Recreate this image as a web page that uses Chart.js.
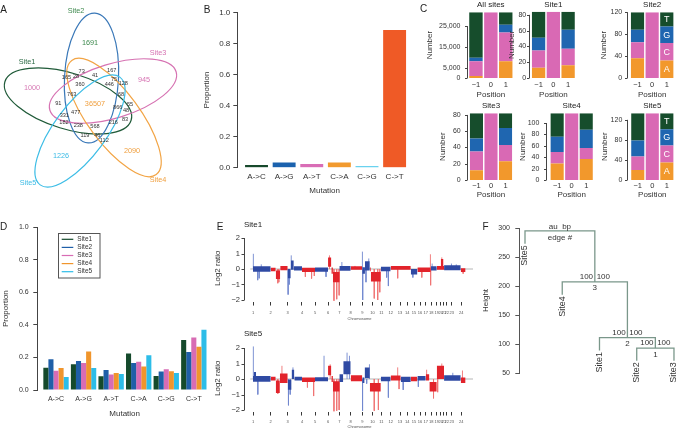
<!DOCTYPE html>
<html><head><meta charset="utf-8">
<script src="https://cdn.jsdelivr.net/npm/chart.js@4.4.1/dist/chart.umd.min.js"></script>
<style>
html,body{margin:0;padding:0;background:#fff}
#wrap{position:relative;width:679px;height:430px;overflow:hidden;font-family:"Liberation Sans",Arial,Helvetica,sans-serif}
#wrap canvas{position:absolute;left:0;top:0}
.lbl{position:absolute;white-space:nowrap;line-height:1;color:#222}
</style></head><body><div id="wrap"></div>
<script>
// ================= DATA =================
// Panel A – Venn diagram
const vennSets = ['Site1','Site2','Site3','Site4','Site5'];
const vennCounts = [1000,1691,945,2090,1226,36507,73,167,41,165,28,360,446,75,128,763,68,91,866,55,477,331,48,182,238,568,216,83,119,46,112];
// Panel B – overall mutation spectrum
const mutationTypes = ['A->C','A->G','A->T','C->A','C->G','C->T'];
const allSitesProportion = [0.018,0.033,0.024,0.034,0.010,0.886];
// Panel C – sequence context (rows A,C,G,T ; columns position -1, 0, 1)
const contextPositions = ['\u22121','0','1'];
const contextBases = ['A','C','G','T'];
const contextAllSites = [[1000,0,8100],[7100,31700,13800],[1600,0,3700],[22000,0,6100]];
const contextSite1 = [[13,0,16],[22,84,21],[16,0,24],[33,0,23]];
const contextSite2 = [[36,0,32],[29,120,32],[23,0,30],[32,0,26]];
const contextSite3 = [[12,0,23],[23,82,20],[16,0,21],[31,0,18]];
const contextSite4 = [[29,0,37],[20,117,19],[27,0,32],[41,0,29]];
const contextSite5 = [[20,0,35],[27,133,34],[32,0,32],[54,0,32]];
const ticksAllSites = [0,5000,15000,25000];
const ticksSite1 = [0,20,40,60,80];
const ticksSite2 = [0,20,40,60,80,100,120];
const ticksSite3 = [0,20,40,60,80];
const ticksSite4 = [0,20,40,60,80,100];
const ticksSite5 = [0,20,40,60,80,100,120];
// Panel D – per-site mutation spectrum
const siteNames = ['Site1','Site2','Site3','Site4','Site5'];
const propSite1 = [0.137,0.158,0.084,0.225,0.086,0.307];
const propSite2 = [0.189,0.178,0.123,0.166,0.113,0.234];
const propSite3 = [0.119,0.166,0.096,0.174,0.127,0.322];
const propSite4 = [0.135,0.236,0.105,0.145,0.115,0.266];
const propSite5 = [0.080,0.135,0.098,0.213,0.105,0.371];
const proportionTicks = [0,0.2,0.4,0.6,0.8,1.0];
// Panel E – copy number (genome position in Mb, log2 ratio)
const chromLabels = ['1','2','3','4','5','6','7','8','9','10','11','12','13','14','15','16','17','18','19','20','21','22','23','24'];
const chromStarts = [0,257,504,711,900,1089,1253,1418,1586,1733,1862,1998,2134,2240,2337,2424,2506,2588,2666,2724,2772,2811,2884,3023];
const log2Ticks = [-2,-1,0,1,2];
// segments: [start, end, low, high]
const site1BlueSegs = [[0,257,-0.18,0.18],[504,548,-0.6,0.0],[548,592,-0.05,0.55],[592,711,-0.1,0.18],[900,1089,-0.18,0.1],[1253,1418,-0.12,0.2],[1586,1625,-0.3,0.12],[1625,1695,-0.1,0.5],[1855,1998,-0.15,0.15],[2290,2386,-0.35,0.0],[2580,2667,-0.1,0.18],[2773,3015,-0.08,0.25]];
const site1RedSegs = [[257,330,-0.15,0.08],[330,395,-0.65,-0.1],[395,504,-0.08,0.2],[711,900,-0.2,0.08],[1089,1137,0.15,0.75],[1137,1160,-0.3,0.1],[1160,1258,-0.85,-0.2],[1418,1586,-0.05,0.18],[1695,1710,-0.15,0.1],[1710,1855,-0.8,-0.2],[1998,2290,-0.05,0.2],[2386,2580,-0.2,0.1],[2667,2773,-0.05,0.2],[2725,2765,0.2,0.65],[3015,3085,-0.2,0.05]];
// spikes: [position, log2 ratio]
const site1BlueSpikes = [[5,0.98],[68,-0.72],[90,-0.6],[120,0.3],[510,-1.65],[525,-1.0],[555,0.88],[1060,-0.5],[1290,0.45],[1588,1.12],[1592,-2.0],[1640,-0.85],[1680,0.68],[1940,-0.55],[1965,-1.1],[2320,-0.55],[2600,0.35],[2880,0.35],[2950,0.3]];
const site1RedSpikes = [[360,-0.92],[375,-0.85],[760,-0.5],[850,-0.62],[890,-0.45],[1110,0.88],[1175,-2.05],[1215,-1.95],[1250,-1.7],[1480,0.2],[1760,-1.9],[1810,-2.0],[1840,-1.5],[2100,-0.6],[2450,-0.55],[2575,0.95],[2578,-1.05],[2740,0.75],[3050,-0.3]];
const site5BlueSegs = [[0,257,-0.18,0.2],[10,45,0.0,0.45],[504,560,-0.7,-0.05],[560,600,0.0,0.6],[600,711,-0.1,0.15],[900,1089,-0.15,0.12],[1253,1310,-0.2,0.3],[1310,1418,0.3,1.15],[1586,1620,-0.25,0.1],[1620,1695,0.05,0.75],[1855,1998,-0.15,0.15],[2144,2290,-0.2,0.15],[2386,2507,-0.1,0.2],[2773,3015,-0.12,0.25]];
const site5RedSegs = [[257,330,-0.1,0.15],[330,390,-0.9,-0.1],[390,504,-0.25,0.35],[711,900,-0.2,0.1],[1089,1137,0.25,0.85],[1137,1160,-0.2,0.2],[1160,1258,-0.8,-0.15],[1418,1586,-0.15,0.25],[1695,1855,-0.8,-0.25],[1998,2144,-0.1,0.22],[2290,2386,-0.15,0.15],[2507,2560,-0.1,0.3],[2560,2667,-0.8,-0.2],[2667,2773,0.0,0.85],[3015,3085,-0.25,0.1]];
const site5BlueSpikes = [[5,2.1],[70,-1.0],[515,-1.7],[540,-1.0],[580,0.75],[1031,1.5],[1365,1.7],[1400,1.5],[1590,-2.05],[1650,-0.3],[1690,0.95],[1965,-1.2],[2180,-0.7],[2400,-0.5],[2900,0.4]];
const site5RedSpikes = [[360,-0.95],[420,0.85],[790,-0.55],[880,-1.1],[1120,0.95],[1175,-2.1],[1215,-2.05],[1250,-2.0],[1760,-2.05],[1820,-2.0],[2100,0.75],[2120,-0.65],[2520,0.6],[2620,-1.25],[2680,-0.85],[2740,1.0],[3040,0.55]];
// Panel F – clustering (leaves in plot order, hclust-style merges; negative = leaf number)
const leafOrder = ['Site5','Site4','Site1','Site2','Site3'];
const mergePairs = [[-4,-5],[-3,1],[-2,2],[-1,3]];
const mergeHeights = [93,111,207,295];
const auValues = [100,100,100,null];
const bpValues = [100,100,100,null];
const leafHang = 22;
const heightTicks = [50,100,150,200,250,300];

// ================= STYLE / LAYOUT =================
const W=679,H=430;
const FONT='"Liberation Sans", Arial, Helvetica, sans-serif';
const mutationColors = ['#17492c','#1b62ae','#d96db6','#f29a2e','#38c3ea','#ef5a26'];
const baseColors = ['#f2982c','#d969b4','#1f66b0','#164d2c'];
const siteColors = ['#154a2c','#1f5fa8','#d86cb4','#f0952c','#2dbde8'];
const vennColors = ['#1f5a38','#3a78b8','#d672b2','#f2a444','#3dbde6'];
const vennLabelColors = ['#2c6b45','#3f8a4f','#d672b2','#f0a040','#3bbbe5'];
const vennCountColors = ['#d77ab5','#3f8a4f','#d672b2','#f0a040','#3bbbe5','#f0a040'];
// [cx, cy, semi-major, semi-minor, rotation deg]
const vennShapes = [[68,101,66,28,17],[91.5,78,65,27,93],[113,91,66,27,-17],[114,117.5,71,26,53.5],[80,131,67,26,-53.5]];
const vennSetXY = [[27,62],[76,11],[158,53],[158,180],[28,183]];
const vennCountXY = [[32,88],[90,43],[144,80],[132,151],[61,156],[95,104],[81.7,71],[111.7,70],[95,75.7],[66.5,77.5],[76,76.5],[80,84],[109.3,84.3],[114,79.5],[123.3,83.3],[71.7,94.3],[121,94.3],[58.3,103.3],[117.7,107.3],[130,104],[75.7,112.7],[64.3,115],[126,110.7],[64,122.7],[78.3,125.7],[95,126],[113.3,122.3],[125,119.3],[85,135],[97.3,135],[104.3,140]];

Chart.defaults.font.family=FONT;
Chart.defaults.color='#333';
Chart.defaults.animation=false;
Chart.defaults.responsive=false;
Chart.defaults.maintainAspectRatio=false;
Chart.defaults.events=[];
Chart.defaults.plugins.legend.display=false;
Chart.defaults.plugins.tooltip.enabled=false;

const wrap=document.getElementById('wrap');
function canvas(){const c=document.createElement('canvas');c.width=W;c.height=H;c.style.width=W+'px';c.style.height=H+'px';wrap.appendChild(c);return c;}
function frame(L,T,R,B,yw,xh){return {autoPadding:false,padding:{left:L-yw,top:T,right:W-R,bottom:H-B-xh}};}
function fixW(w){return s=>{s.width=w;};}
function fixH(h){return s=>{s.height=h;};}
function setTicks(vals){return s=>{s.ticks=vals.map(v=>({value:v}));};}
function label(text,x,y,size,color,align){const d=document.createElement('div');d.className='lbl';d.textContent=text;d.style.left=x+'px';d.style.top=y+'px';d.style.fontSize=size+'px';d.style.color=color||'#222';d.style.transform=align==='left'?'translate(0,-50%)':'translate(-50%,-50%)';wrap.appendChild(d);}
const minus=v=>v<0?'\u2212'+(-v):String(v);

// R-style axis line (first to last tick)
Chart.register({
  id:'raxis',
  afterDraw(chart,args,opts){
    const ctx=chart.ctx,a=chart.chartArea;
    ctx.save();ctx.strokeStyle=opts.color||'#444';ctx.lineWidth=1;
    if(opts.y){const s=chart.scales.y;const vals=s.ticks.map(t=>t.value);
      const x0=Math.round(a.left-opts.y.gap)+0.5;
      ctx.beginPath();ctx.moveTo(x0,s.getPixelForValue(Math.min(...vals)));ctx.lineTo(x0,s.getPixelForValue(Math.max(...vals)));
      vals.forEach(v=>{const p=Math.round(s.getPixelForValue(v))+0.5;ctx.moveTo(x0,p);ctx.lineTo(x0-opts.y.len,p);});
      ctx.stroke();}
    ctx.restore();
  }
});
// white base letters on a stacked bar
Chart.register({
  id:'baseLetters',
  afterDatasetsDraw(chart,args,opts){
    if(!opts.show)return;const ctx=chart.ctx;ctx.save();ctx.fillStyle='#fff';ctx.font='9px '+FONT;ctx.textAlign='center';ctx.textBaseline='middle';
    chart.data.datasets.forEach((ds,i)=>{const el=chart.getDatasetMeta(i).data[2];ctx.fillText(ds.label,el.x,(el.y+el.base)/2+0.5);});
    ctx.restore();
  }
});

// ================= PANEL A : VENN =================
new Chart(canvas(),{
  type:'scatter',
  data:{datasets:[{data:vennCounts.map((v,i)=>({x:vennCountXY[i][0],y:vennCountXY[i][1]})),pointRadius:0}]},
  options:{layout:{autoPadding:false,padding:{left:0,top:0,right:W-200,bottom:H-200}},
    scales:{x:{display:false,min:0,max:200},y:{display:false,min:0,max:200,reverse:true}}},
  plugins:[{id:'venn',
    beforeDatasetsDraw(chart){const {ctx,scales:{x,y}}=chart;ctx.save();
      vennShapes.forEach((e,i)=>{const cx=x.getPixelForValue(e[0]),cy=y.getPixelForValue(e[1]);
        const rx=Math.abs(x.getPixelForValue(e[0]+e[2])-cx),ry=Math.abs(x.getPixelForValue(e[0]+e[3])-cx);
        ctx.beginPath();ctx.ellipse(cx,cy,rx,ry,e[4]*Math.PI/180,0,2*Math.PI);ctx.strokeStyle=vennColors[i];ctx.lineWidth=1.2;ctx.stroke();});
      ctx.restore();},
    afterDatasetsDraw(chart){const {ctx,scales:{x,y}}=chart;const meta=chart.getDatasetMeta(0);ctx.save();ctx.textAlign='center';ctx.textBaseline='middle';
      meta.data.forEach((pt,i)=>{const big=i<6;ctx.font=(big?'7.3px ':'5.6px ')+FONT;ctx.fillStyle=big?vennCountColors[i]:'#333';ctx.fillText(String(vennCounts[i]),pt.x,pt.y);});
      vennSets.forEach((s,i)=>{ctx.font='7.3px '+FONT;ctx.fillStyle=vennLabelColors[i];ctx.fillText(s,x.getPixelForValue(vennSetXY[i][0]),y.getPixelForValue(vennSetXY[i][1]));});
      ctx.restore();}
  }]
});

// ================= PANEL B =================
(function(){
  const L=237.3,T=12.3,R=412,B=167.7;const yw=L-207+4.8,xh=191+4.8-B;
  new Chart(canvas(),{type:'bar',
    data:{datasets:[{data:allSitesProportion.map((v,i)=>({x:i,y:v})),backgroundColor:mutationColors,barPercentage:0.83,categoryPercentage:1}]},
    options:{layout:frame(L,T,R,B,yw,xh),scales:{
      x:{type:'linear',min:-0.696,max:5.63,offset:false,grid:{display:false,drawTicks:false,offset:false},border:{display:false},afterBuildTicks:setTicks([0,1,2,3,4,5]),
         ticks:{autoSkip:false,maxRotation:0,minRotation:0,padding:4.2,font:{size:8},callback:v=>mutationTypes[v]},
         title:{display:true,text:'Mutation',font:{size:8},padding:0},afterFit:fixH(xh)},
      y:{min:0,max:1,afterBuildTicks:setTicks(proportionTicks),ticks:{padding:3,font:{size:8},callback:v=>v.toFixed(1)},
         grid:{drawOnChartArea:false,tickLength:4,color:'#444'},border:{color:'#444'},
         title:{display:true,text:'Proportion',font:{size:8},padding:0},afterFit:fixW(yw)}}}
  });
})();

// ================= PANEL C =================
function contextChart(counts,ticks,L,T,R,B,titleX,labelY,posTitleY,letters,axGap,lblPad){
  const total=counts.reduce((s,r)=>s+r[0],0);
  const yw=L-titleX+4.8,xh=posTitleY+4.8-B,lp=labelY-B-4.5;
  new Chart(canvas(),{type:'bar',
    data:{labels:contextPositions,datasets:contextBases.map((b,i)=>({label:b,data:counts[i],backgroundColor:baseColors[i],barPercentage:0.9,categoryPercentage:1,borderWidth:0}))},
    options:{layout:frame(L,T,R,B,yw,xh),plugins:{raxis:{y:{gap:axGap,len:2.5}},baseLetters:{show:letters}},
      scales:{
        x:{stacked:true,grid:{display:false,drawTicks:false},border:{display:false},ticks:{padding:lp,font:{size:7.5},maxRotation:0,autoSkip:false},
           title:{display:true,text:'Position',font:{size:8},padding:0},afterFit:fixH(xh)},
        y:{stacked:true,min:0,max:total,afterBuildTicks:setTicks(ticks),grid:{display:false,drawTicks:false},border:{display:false},
           ticks:{padding:lblPad,font:{size:7},callback:v=>v.toLocaleString('en-US')},
           title:{display:true,text:'Number',font:{size:8},padding:0},afterFit:fixW(yw)}}}
  });
}
contextChart(contextAllSites,ticksAllSites,468.5,11.7,513.2,78,430,85,94.3,false,1.8,8);
contextChart(contextSite1,ticksSite1,531.2,11.7,575.5,78,511.5,85,94.3,false,2.0,5);
contextChart(contextSite2,ticksSite2,630.2,11.7,674.1,78,604,85,94.3,true,3.5,8);
contextChart(contextSite3,ticksSite3,469.2,113.3,512.8,180,442.5,186,195,false,2.5,8.5);
contextChart(contextSite4,ticksSite4,549.9,113.3,593.5,180,523,186,195,false,4.4,10.5);
contextChart(contextSite5,ticksSite5,630.5,113.3,674.1,180,604.5,186,195,true,3.2,8.2);

// ================= PANEL D =================
(function(){
  const L=37.3,T=227.3,R=212,B=390;const yw=L-6+4.8,xh=414+4.8-B;
  const props=[propSite1,propSite2,propSite3,propSite4,propSite5];
  new Chart(canvas(),{type:'bar',
    data:{datasets:siteNames.map((n,i)=>({label:n,data:props[i].map((v,j)=>({x:j,y:v})),backgroundColor:siteColors[i],categoryPercentage:0.92,barPercentage:1}))},
    options:{layout:frame(L,T,R,B,yw,xh),scales:{
      x:{type:'linear',min:-0.679,max:5.66,offset:false,grid:{display:false,drawTicks:false,offset:false},border:{display:false},afterBuildTicks:setTicks([0,1,2,3,4,5]),
         ticks:{autoSkip:false,maxRotation:0,minRotation:0,padding:4.8,font:{size:7},callback:v=>mutationTypes[v]},
         title:{display:true,text:'Mutation',font:{size:8},padding:0},afterFit:fixH(xh)},
      y:{min:0,max:1,afterBuildTicks:setTicks(proportionTicks),ticks:{padding:4.6,font:{size:7},callback:v=>v.toFixed(1)},
         grid:{drawOnChartArea:false,tickLength:4,color:'#444'},border:{color:'#444'},
         title:{display:true,text:'Proportion',font:{size:8},padding:0},afterFit:fixW(yw)}}},
    plugins:[{id:'dlegend',afterDraw(chart){const ctx=chart.ctx;ctx.save();ctx.strokeStyle='#555';ctx.lineWidth=1;ctx.strokeRect(58.5,233.5,41.5,44.5);
      ctx.font='6.5px '+FONT;ctx.textBaseline='middle';
      chart.data.datasets.forEach((ds,i)=>{const y=239.3+i*8.1;ctx.strokeStyle=ds.backgroundColor;ctx.lineWidth=1.2;ctx.beginPath();ctx.moveTo(61.7,y);ctx.lineTo(73.3,y);ctx.stroke();ctx.fillStyle='#333';ctx.fillText(ds.label,77.3,y);});
      ctx.restore();}}]
  });
})();

// ================= PANEL E =================
function spikeData(sp){const out=[];sp.slice().sort((a,b)=>a[0]-b[0]).forEach(([x,v])=>{out.push({x,y:0},{x,y:v},{x,y:null});});return out;}
function cnvChart(blueSegs,redSegs,blueSpikes,redSpikes,T,B,labelY,titleY){
  const L=246,R=473;const yw=L-218+4.8,xh=titleY+2.4-B,lp=labelY-B-4-2.4;
  const ds=[];
  ds.push({type:'line',data:[{x:-40,y:0},{x:3193,y:0}],borderColor:'#b5b5b5',borderWidth:1.2,pointRadius:0,order:5});
  ds.push({type:'line',data:spikeData(blueSpikes),borderColor:'#7288cf',borderWidth:0.9,pointRadius:0,spanGaps:false,order:3});
  ds.push({type:'line',data:spikeData(redSpikes),borderColor:'#ef7373',borderWidth:0.9,pointRadius:0,spanGaps:false,order:3});
  blueSegs.forEach(s=>ds.push({type:'line',data:[{x:s[0],y:s[3]},{x:s[1],y:s[3]}],borderWidth:0,pointRadius:0,fill:{value:s[2]},backgroundColor:'#2f4aa3',order:1}));
  redSegs.forEach(s=>ds.push({type:'line',data:[{x:s[0],y:s[3]},{x:s[1],y:s[3]}],borderWidth:0,pointRadius:0,fill:{value:s[2]},backgroundColor:'#e2232b',order:1}));
  new Chart(canvas(),{type:'scatter',data:{datasets:ds},
    options:{layout:frame(L,T,R,B,yw,xh),plugins:{raxis:{y:{gap:1.7,len:3}}},
      scales:{
        x:{type:'linear',min:-101.6,max:3193,afterBuildTicks:setTicks(chromStarts),
           grid:{drawOnChartArea:false,drawTicks:true,tickLength:4,color:'#222',lineWidth:0.9},border:{display:false},
           ticks:{autoSkip:false,maxRotation:0,minRotation:0,padding:lp,font:{size:4},color:'#555',callback:(v,i)=>chromLabels[i]},
           title:{display:true,text:'Chromosome',font:{size:4},color:'#555',padding:0},afterFit:fixH(xh)},
        y:{min:-2.1,max:2.2,afterBuildTicks:setTicks(log2Ticks),grid:{display:false,drawTicks:false},border:{display:false},
           ticks:{padding:6,font:{size:7.5},callback:v=>minus(v)},
           title:{display:true,text:'Log2 ratio',font:{size:8},padding:0},afterFit:fixW(yw)}}}
  });
}
cnvChart(site1BlueSegs,site1RedSegs,site1BlueSpikes,site1RedSpikes,234.9,301.55,313,319);
cnvChart(site5BlueSegs,site5RedSegs,site5BlueSpikes,site5RedSpikes,344.9,411.55,422,426.7);

// ================= PANEL F =================
(function(){
  const nodeX=[],leafBottom=[];
  const cx=c=>c<0?-c:nodeX[c-1];
  mergePairs.forEach(([a,b],k)=>{nodeX[k]=(cx(a)+cx(b))/2;[a,b].forEach(c=>{if(c<0)leafBottom[-c-1]=mergeHeights[k]-leafHang;});});
  const ch=c=>c<0?leafBottom[-c-1]:mergeHeights[c-1];
  const ds=mergePairs.map(([a,b],k)=>({data:[{x:cx(a),y:ch(a)},{x:cx(a),y:mergeHeights[k]},{x:cx(b),y:mergeHeights[k]},{x:cx(b),y:ch(b)}],
    showLine:true,borderColor:'#7a978a',borderWidth:1.3,pointRadius:0}));
  const L=519.3,T=228,R=677.7,B=373;const yw=L-486+4.8;
  new Chart(canvas(),{type:'scatter',data:{datasets:ds},
    options:{layout:frame(L,T,R,B,yw,0),scales:{
      x:{display:false,min:0.847,max:5.1},
      y:{min:50,max:300,afterBuildTicks:setTicks(heightTicks),ticks:{padding:5.3,font:{size:7}},
         grid:{drawOnChartArea:false,tickLength:4,color:'#555'},border:{color:'#555'},
         title:{display:true,text:'Height',font:{size:8},padding:0},afterFit:fixW(yw)}}},
    plugins:[{id:'dendro',afterDraw(chart){const {ctx,scales:{x,y}}=chart;ctx.save();ctx.fillStyle='#333';
      leafOrder.forEach((n,i)=>{const px=x.getPixelForValue(i+1),py=y.getPixelForValue(leafBottom[i]);ctx.save();ctx.translate(px,py+1.5);ctx.rotate(-Math.PI/2);
        ctx.font='9px '+FONT;ctx.textAlign='right';ctx.textBaseline='middle';ctx.fillText(n,0,0);ctx.restore();});
      ctx.font='8px '+FONT;ctx.textBaseline='middle';
      mergePairs.forEach((m,k)=>{const px=x.getPixelForValue(nodeX[k]),py=y.getPixelForValue(mergeHeights[k]);
        if(auValues[k]!==null){ctx.textAlign='right';ctx.fillText(String(auValues[k]),px-1.8,py-4.8);ctx.textAlign='left';ctx.fillText(String(bpValues[k]),px+1.8,py-4.8);
          ctx.textAlign='center';ctx.fillText(String(k+1),px,py+6.3);}
        else{ctx.textAlign='center';ctx.fillText('au  bp',px,py-4.5);ctx.fillText('edge #',px,py+6.8);}});
      ctx.restore();}}]
  });
})();

// ================= TEXT LABELS =================
[['A',3.7,10],['B',207,10.3],['C',423.5,9],['D',3.7,226.7],['E',220,226.7],['F',485.5,226.7]].forEach(l=>label(l[0],l[1],l[2],10,'#222'));
label('All sites',490.8,4.8,8);label('Site1',553.4,4.8,8);label('Site2',652.2,4.8,8);
label('Site3',491,106,8);label('Site4',571.7,106,8);label('Site5',652.3,106,8);
label('Site1',244,224.5,8,'#222','left');label('Site5',244,334,8,'#222','left');
</script></body></html>
